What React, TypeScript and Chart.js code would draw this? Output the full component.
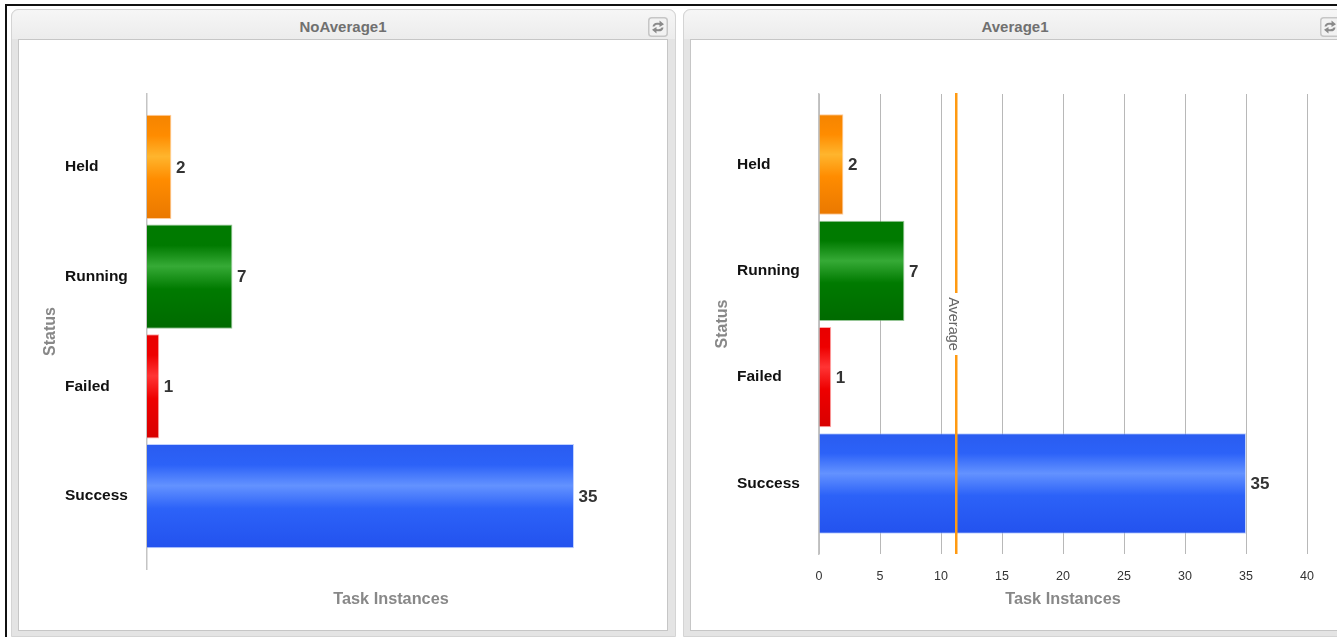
import React, { useEffect, useRef } from "react";
import { Chart, registerables } from "chart.js";

Chart.register(...registerables);

const categories = ["Held", "Running", "Failed", "Success"];
const taskInstances = [2, 7, 1, 35];
const averageValue = 11.25;
const xTickMax = 40;
const xTickStep = 5;
const bandMargin = 0.664;

// Gradient stops per status: edge, flat body, highlight, flat body, bottom edge
const barStops = [
  ["#f58400", "#ff8c00", "#ffb52d", "#ff8c00", "#ea7800"],
  ["#007a00", "#007a00", "#36aa36", "#007a00", "#006a00"],
  ["#e80000", "#ee0000", "#ff3434", "#ee0000", "#d80000"],
  ["#2a5cf0", "#2c62f8", "#6392ff", "#2c62f8", "#2352ee"],
];
const barEdges = [
  "rgba(255,170,90,0.6)",
  "rgba(80,160,80,0.6)",
  "rgba(255,110,110,0.6)",
  "rgba(150,180,255,0.6)",
];

const FONT = '"Liberation Sans", Arial, sans-serif';

const valueLabels = {
  id: "valueLabels",
  afterDatasetsDraw(chart: any) {
    const { ctx } = chart;
    const meta = chart.getDatasetMeta(0);
    ctx.save();
    ctx.font = `bold 17px ${FONT}`;
    ctx.fillStyle = "#333333";
    ctx.textAlign = "left";
    ctx.textBaseline = "middle";
    meta.data.forEach((bar: any, i: number) => {
      ctx.fillText(String(taskInstances[i]), bar.x + 4.5, bar.y + 1);
    });
    ctx.restore();
  },
};

const averageLine = {
  id: "averageLine",
  afterDatasetsDraw(chart: any, _args: any, opts: any) {
    if (!opts.show) return;
    const { ctx, chartArea, scales } = chart;
    const x = scales.x.getPixelForValue(averageValue);
    const mid = (chartArea.top + chartArea.bottom) / 2;
    ctx.save();
    ctx.strokeStyle = "#ff9a12";
    ctx.lineWidth = 2.5;
    ctx.beginPath();
    ctx.moveTo(x, chartArea.top - 1);
    ctx.lineTo(x, chartArea.bottom);
    ctx.stroke();
    ctx.fillStyle = "#ffffff";
    ctx.fillRect(x - 8, mid - 31, 12, 62);
    ctx.translate(x, mid);
    ctx.rotate(Math.PI / 2);
    ctx.font = `14.5px ${FONT}`;
    ctx.fillStyle = "#666666";
    ctx.textAlign = "center";
    ctx.textBaseline = "middle";
    // The caption sits slightly to the left of the line once rotated
    ctx.fillText("Average", 0, 3);
    ctx.restore();
  },
};

function barGradient(context: any, thicknessRatio: number) {
  const { chart, dataIndex } = context;
  const yScale = chart.scales.y;
  if (!yScale || dataIndex === undefined) return "#888888";
  const centre = yScale.getPixelForValue(dataIndex);
  const half = (Math.abs(yScale.getPixelForValue(1) - yScale.getPixelForValue(0)) * thicknessRatio) / 2;
  const stops = barStops[dataIndex];
  // Scales have no pixel range until the first layout pass has run
  if (!Number.isFinite(centre) || !Number.isFinite(half)) return stops[1];
  const g = chart.ctx.createLinearGradient(0, centre - half, 0, centre + half);
  g.addColorStop(0, stops[0]);
  g.addColorStop(0.2, stops[1]);
  g.addColorStop(0.4, stops[2]);
  g.addColorStop(0.62, stops[3]);
  g.addColorStop(1, stops[4]);
  return g;
}

type ChartProps = {
  withGrid: boolean;
  axisBoxHeight: number;
  thicknessRatio: number;
};

function StatusChart({ withGrid, axisBoxHeight, thicknessRatio }: ChartProps) {
  const ref = useRef<HTMLCanvasElement>(null);

  useEffect(() => {
    if (!ref.current) return;
    const chart = new Chart(ref.current, {
      type: "bar",
      data: {
        datasets: [
          {
            data: categories.map((_, i) => ({ x: taskInstances[i], y: i })),
            categoryPercentage: 1,
            barPercentage: thicknessRatio,
            backgroundColor: (c: any) => barGradient(c, thicknessRatio),
            borderColor: barEdges,
            borderWidth: 1,
          },
        ],
      },
      plugins: [valueLabels, averageLine],
      options: {
        indexAxis: "y",
        animation: false,
        responsive: false,
        layout: { padding: { top: 54, right: 32, bottom: 0, left: 0 } },
        plugins: {
          legend: { display: false },
          tooltip: { enabled: false },
          title: {
            display: true,
            text: "Status",
            position: "left",
            fullSize: false,
            color: "#888888",
            font: { family: FONT, size: 16, weight: "bold" },
            padding: { top: 22, bottom: 4.8 },
          },
          averageLine: { show: withGrid },
        } as any,
        scales: {
          x: {
            type: "linear",
            position: "bottom",
            min: 0,
            max: xTickMax,
            grid: {
              display: withGrid,
              color: "#b8b8b8",
              lineWidth: 1,
              drawTicks: false,
              tickLength: 0,
            },
            border: { display: false },
            ticks: {
              display: withGrid,
              stepSize: xTickStep,
              padding: 15,
              color: "#333333",
              font: { family: FONT, size: 12.5 },
              maxRotation: 0,
            },
            title: {
              display: true,
              text: "Task Instances",
              color: "#888888",
              font: { family: FONT, size: 16.3, weight: "bold" },
              padding: { top: 0, bottom: 21 },
            },
            afterFit(scale: any) {
              scale.height = axisBoxHeight;
            },
          },
          y: {
            type: "linear",
            position: "left",
            reverse: true,
            offset: false,
            min: -bandMargin,
            max: categories.length - 1 + bandMargin,
            grid: { display: false, offset: false },
            border: { display: true, color: "#c4c4c4", width: 1.5 },
            ticks: {
              crossAlign: "far",
              autoSkip: false,
              color: "#111111",
              font: { family: FONT, size: 15.5, weight: "bold" },
              callback: (v: any) => categories[v as number] ?? "",
            },
            afterBuildTicks(scale: any) {
              scale.ticks = categories.map((_, i) => ({ value: i }));
            },
            afterFit(scale: any) {
              scale.width = 82;
            },
          },
        },
      } as any,
    });
    return () => chart.destroy();
  }, [withGrid, axisBoxHeight, thicknessRatio]);

  return (
    <canvas
      ref={ref}
      width={648}
      height={590}
      style={{ position: "absolute", left: 0, top: 0, width: 648, height: 590, display: "block" }}
    />
  );
}

function RefreshIcon() {
  return (
    <svg width="20" height="20" viewBox="0 0 20 20" style={{ position: "absolute", right: 0, top: 0 }}>
      <rect x="0.75" y="0.75" width="18.5" height="18.5" rx="3" fill="#f2f2f2" stroke="#c6c6c6" strokeWidth="1.5" />
      <path d="M4.5 9.5 C5 6 8 5 11.5 6 L11.5 3.5 L16 7.2 L11.5 10 L11.5 8 C9 7.4 7 8 6.5 9.5 Z" fill="#8a8a8a" />
      <path d="M15.5 10.5 C15 14 12 15 8.5 14 L8.5 16.5 L4 12.8 L8.5 10 L8.5 12 C11 12.6 13 12 13.5 10.5 Z" fill="#8a8a8a" />
    </svg>
  );
}

function Panel({ left, title, children }: { left: number; title: string; children: React.ReactNode }) {
  return (
    <div
      style={{
        position: "absolute",
        left,
        top: 9,
        width: 665,
        height: 628,
        boxSizing: "border-box",
        background: "#e4e4e4",
        border: "1px solid #d4d4d4",
        borderRadius: "7px 7px 0 0",
      }}
    >
      <div
        style={{
          position: "absolute",
          left: 0,
          right: 0,
          top: 0,
          height: 29,
          background: "linear-gradient(#f6f6f6, #ececec)",
          borderRadius: "7px 7px 0 0",
          textAlign: "center",
          font: `bold 15px ${FONT}`,
          lineHeight: "33px",
          color: "#707070",
          paddingRight: 1,
        }}
      >
        {title}
      </div>
      <div style={{ position: "absolute", left: 636, top: 7, width: 20, height: 20 }}>
        <RefreshIcon />
      </div>
      <div
        style={{
          position: "absolute",
          left: 6,
          top: 29,
          width: 650,
          height: 592,
          boxSizing: "border-box",
          background: "#ffffff",
          border: "1px solid #c6c6c6",
        }}
      >
        {children}
      </div>
    </div>
  );
}

export default function App() {
  useEffect(() => {
    document.body.style.margin = "0";
    document.body.style.overflow = "hidden";
    document.body.style.background = "#ffffff";
  }, []);

  return (
    <div style={{ position: "relative", width: 1337, height: 637, overflow: "hidden", background: "#ffffff" }}>
      <div style={{ position: "absolute", left: 5, top: 4, right: 0, height: 2, background: "#111111" }} />
      <div style={{ position: "absolute", left: 5, top: 4, bottom: 0, width: 2, background: "#111111" }} />
      <Panel left={11} title="NoAverage1">
        <StatusChart withGrid={false} axisBoxHeight={61} thicknessRatio={0.95} />
      </Panel>
      <Panel left={683} title="Average1">
        <StatusChart withGrid={true} axisBoxHeight={76} thicknessRatio={0.945} />
      </Panel>
    </div>
  );
}
